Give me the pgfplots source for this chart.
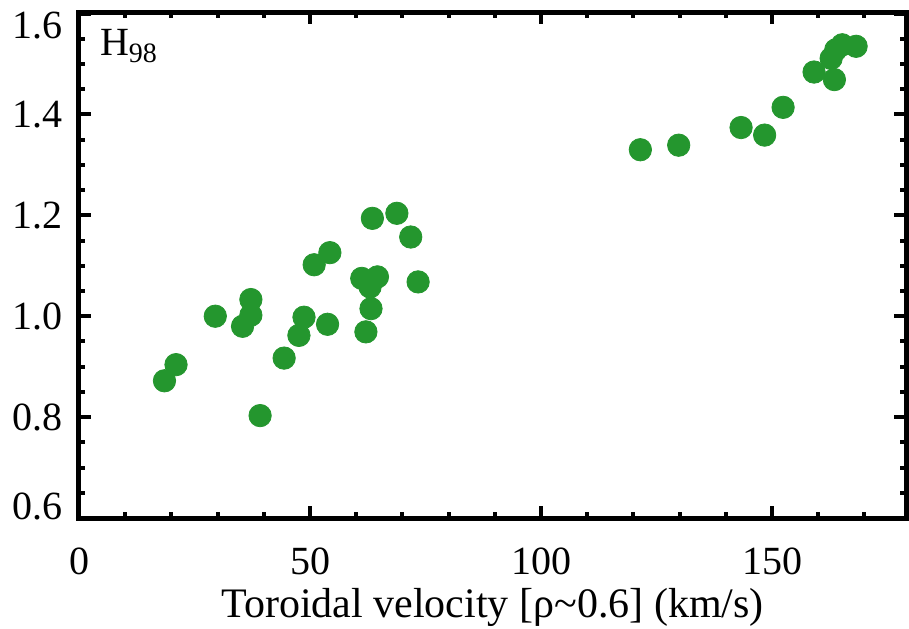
\documentclass[border=0pt]{standalone}
\usepackage{fontspec}
\setmainfont{Liberation Serif}
\usepackage{pgfplots}
\pgfplotsset{compat=1.18}
\definecolor{ptgreen}{RGB}{36,150,46}
\begin{document}
\fontsize{20}{24}\selectfont
\begin{tikzpicture}
\begin{axis}[
 scale only axis, width=413.5pt, height=253pt,
 xmin=0, xmax=179, ymin=0.6, ymax=1.603,
 axis line style={line width=2.5pt},
 xtick={0,50,100,150}, minor xtick={10,20,30,40,60,70,80,90,110,120,130,140,160,170},
 ytick={0.6,0.8,1.0,1.2,1.4,1.6},
 yticklabels={,0.8,1.0,1.2,1.4,},
 minor ytick={0.65,0.7,0.75,0.85,0.9,0.95,1.05,1.1,1.15,1.25,1.3,1.35,1.45,1.5,1.55},
 tick align=inside, major tick length=6pt, minor tick length=3pt,
 every tick/.style={black, line width=2pt},
 tick label style={font=\fontsize{20}{24}\selectfont},
 /pgf/number format/assume math mode=true,
 yticklabel style={xshift=-1.5pt},
 xticklabel style={yshift=-8pt},
 xlabel={Toroidal velocity [ρ\textasciitilde 0.6] (km/s)},
 xlabel style={at={(axis description cs:0.5,0)}, anchor=base, yshift=-49.5pt, font=\fontsize{21}{25}\selectfont},
 clip=false,
]
\addplot[only marks, mark=*, mark size=5.6pt, color=ptgreen, mark options={draw=ptgreen, fill=ptgreen}] table {
x y
18.5 0.872
21.0 0.904
29.5 1.000
37.2 1.033
37.2 1.002
35.4 0.980
39.2 0.803
44.4 0.917
47.6 0.962
48.7 0.998
53.8 0.984
50.9 1.102
54.3 1.126
61.2 1.075
64.6 1.078
63.0 1.058
63.2 1.015
62.1 0.969
63.5 1.194
68.8 1.204
71.8 1.157
73.4 1.068
121.5 1.330
129.8 1.339
143.3 1.374
148.4 1.359
152.4 1.414
159.1 1.484
163.5 1.469
162.8 1.511
163.8 1.528
165.2 1.538
168.2 1.535
};
\node[anchor=east, inner sep=0.333em, xshift=-1.5pt, yshift=6pt] at (axis cs:0,0.6) {0.6};
\node[anchor=east, inner sep=0.333em, xshift=-1.5pt, yshift=-6.25pt] at (axis cs:0,1.6) {1.6};
\node[anchor=north west, inner sep=0pt] at (axis description cs:0.025,0.966) {H\textsubscript{98}};
\coordinate (sw) at (rel axis cs:0,0);
\coordinate (ne) at (rel axis cs:1,1);
\end{axis}
\pgfresetboundingbox
\path ([shift={(-39.5pt,-55pt)}]sw) rectangle ([shift={(1.5pt,6pt)}]ne);
\end{tikzpicture}
\end{document}
